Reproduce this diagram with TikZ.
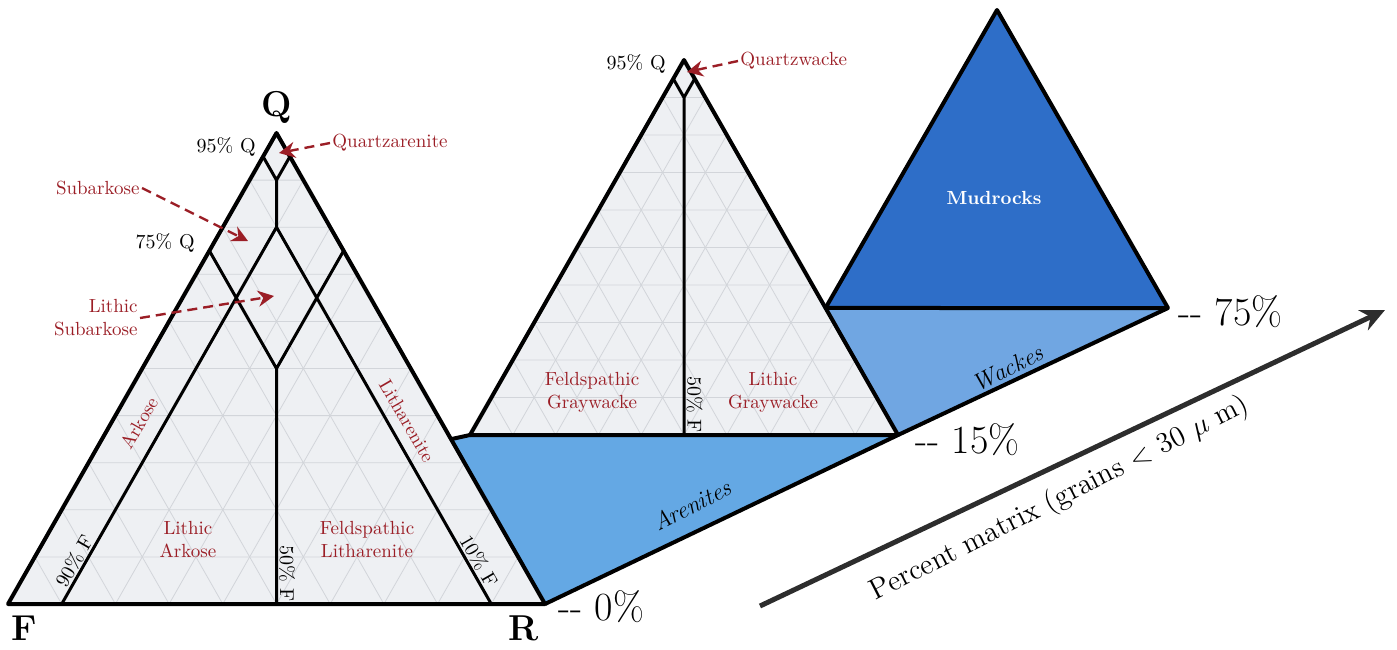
\documentclass[tikz,border=0pt]{standalone}
\usepackage{tikz}
\usetikzlibrary{arrows.meta,calc}

\definecolor{rockred}{RGB}{155,30,38}
\definecolor{trifill}{RGB}{238,240,243}
\definecolor{gridgray}{RGB}{210,213,218}
\definecolor{arenblue}{RGB}{100,168,228}
\definecolor{wackblue}{RGB}{112,166,226}
\definecolor{mudblue}{RGB}{46,110,200}
\definecolor{axisgray}{RGB}{45,45,45}

\tikzset{
  edge/.style={line width=2pt, line join=round},
  split/.style={line width=1.5pt, line join=round},
  gridln/.style={gridgray, line width=0.4pt},
  redlab/.style={text=rockred, font=\fontsize{9.5}{11.5}\selectfont, inner sep=1pt},
  blacklab/.style={font=\fontsize{10}{12}\selectfont, inner sep=1pt},
  ptr/.style={rockred, line width=1.2pt, dash pattern=on 5pt off 3pt, -{Stealth[length=8pt,width=8pt]}},
  corner/.style={font=\fontsize{18}{20}\selectfont\bfseries, inner sep=0pt},
  pct/.style={font=\fontsize{20}{24}\selectfont, anchor=west, inner sep=0pt},
  band/.style={font=\fontsize{12}{14}\selectfont\itshape, inner sep=0pt},
}

\begin{document}
\begin{tikzpicture}[x=0.5pt,y=-0.5pt]
  \useasboundingbox (0,0) rectangle (1397,649);

  % Corners of the three triangles
  \coordinate (F) at (8,604);
  \coordinate (R) at (545,604);
  \coordinate (Q) at (276.5,133);
  \coordinate (MF) at (470,435);
  \coordinate (MR) at (898,435);
  \coordinate (MQ) at (684,60);
  \coordinate (UF) at ($(MQ)!0.6613!(MR)$);
  \coordinate (UR) at (1168,308);
  \coordinate (UQ) at (997,10);
  \coordinate (J) at ($(Q)!0.65!(R)$);

  % Matrix bands
  \fill[arenblue] (J) -- (MF) -- (MR) -- (R) -- cycle;
  \fill[wackblue] (UF) -- (UR) -- (MR) -- cycle;
  \fill[mudblue] (UF) -- (UR) -- (UQ) -- cycle;

  % Triangle backgrounds
  \fill[trifill] (F) -- (R) -- (Q) -- cycle;
  \fill[trifill] (MF) -- (MR) -- (MQ) -- cycle;

  % 10% grid
  \foreach \k [evaluate=\k as \t using \k/10] in {1,...,9} {
    \draw[gridln] ($(F)!\t!(Q)$) -- ($(R)!\t!(Q)$)
                  ($(F)!\t!(R)$) -- ($(Q)!\t!(R)$)
                  ($(R)!\t!(F)$) -- ($(Q)!\t!(F)$);
    \draw[gridln] ($(MF)!\t!(MQ)$) -- ($(MR)!\t!(MQ)$)
                  ($(MF)!\t!(MR)$) -- ($(MQ)!\t!(MR)$)
                  ($(MR)!\t!(MF)$) -- ($(MQ)!\t!(MF)$);
  }

  % Class boundaries, arenites
  \coordinate (V) at ($0.9*(Q)+0.05*(F)+0.05*(R)$);
  \coordinate (T) at ($0.8*(Q)+0.1*(F)+0.1*(R)$);
  \coordinate (B) at ($0.5*(Q)+0.25*(F)+0.25*(R)$);
  \coordinate (F90) at ($(F)!0.1!(R)$);
  \coordinate (F50) at ($(F)!0.5!(R)$);
  \coordinate (F10) at ($(F)!0.9!(R)$);
  \draw[split] ($(Q)!0.05!(F)$) -- (V) -- ($(Q)!0.05!(R)$)
               (V) -- (T)
               (F90) -- (T) -- (F10)
               ($(Q)!0.25!(F)$) -- (B) -- ($(Q)!0.25!(R)$)
               (B) -- (F50);

  % Class boundaries, wackes
  \coordinate (MV) at ($0.9*(MQ)+0.05*(MF)+0.05*(MR)$);
  \coordinate (MF50) at ($(MF)!0.5!(MR)$);
  \draw[split] ($(MQ)!0.05!(MF)$) -- (MV) -- ($(MQ)!0.05!(MR)$)
               (MV) -- (MF50);

  % Outlines
  \draw[edge] (F) -- (R) -- (Q) -- cycle;
  \draw[edge] (MF) -- (MR) -- (MQ) -- cycle;
  \draw[edge] (UF) -- (UR) -- (UQ) -- cycle;
  \draw[edge] (J) -- (MF);
  \draw[edge] (R) -- (MR) -- (UR);

  % Corner labels
  \node[corner] (lq) at (277,107) {Q};
  \node[corner] (lf) at (24,628) {F};
  \node[corner] (lr) at (524,628) {R};
  \node[blacklab, anchor=east] (q95) at (258,147) {95\% Q};
  \node[blacklab, anchor=east] (q75) at (197,243) {75\% Q};
  \node[blacklab, anchor=east] (mq95) at (668,64) {95\% Q};

  % Boundary values
  \node[blacklab, rotate=60, anchor=south] (f90) at ($(F90)!0.1!(T)$) {90\% F};
  \node[blacklab, rotate=-90, anchor=south] (f50) at ($(F50)!0.13!(B)$) {50\% F};
  \node[blacklab, rotate=-60, anchor=south] (f10) at ($(F10)!0.1!(T)$) {10\% F};
  \node[blacklab, rotate=-90, anchor=south] (mf50) at ($(MF50)!0.09!(MV)$) {50\% F};

  % Rock names
  \node[redlab, anchor=west] (qzar) at (330,143) {Quartzarenite};
  \node[redlab, anchor=east] (sub) at (142,188) {Subarkose};
  \node[redlab, anchor=east, align=right] (lsub) at (140,318) {Lithic\\Subarkose};
  \node[redlab, rotate=60] (ark) at (139,423) {Arkose};
  \node[redlab, rotate=-60] (lith) at (407,421) {Litharenite};
  \node[redlab, align=center] (lark) at (188,540) {Lithic\\Arkose};
  \node[redlab, align=center] (flith) at (367,540) {Feldspathic\\Litharenite};
  \node[redlab, anchor=west] (qwk) at (738,61) {Quartzwacke};
  \node[redlab, align=center] (fgw) at (592,392) {Feldspathic\\Graywacke};
  \node[redlab, align=center] (lgw) at (773,392) {Lithic\\Graywacke};
  \node[font=\fontsize{9.5}{11}\selectfont\bfseries, text=white] (mud) at (994,198) {Mudrocks};

  % Pointers
  \coordinate (qzartip) at (279,153);
  \coordinate (subtip) at (248,241);
  \coordinate (lsubtip) at (274,296);
  \coordinate (qwktip) at (687,72);
  \draw[ptr] (qzar.west) -- (qzartip);
  \draw[ptr] (sub.east) -- (subtip);
  \draw[ptr] (lsub.east) -- (lsubtip);
  \draw[ptr] (qwk.west) -- (qwktip);

  % Matrix axis
  \node[band, rotate=27] (aren) at (692,505) {Arenites};
  \node[band, rotate=27] (wack) at (1008,368) {Wackes};
  \node[pct] (p0) at (558,607) {-{}- 0\%};
  \node[pct] (p15) at (915,440) {-{}- 15\%};
  \node[pct] (p75) at (1178,312) {-{}- 75\%};
  \coordinate (ax0) at (760,606);
  \coordinate (ax1) at (1385,310);
  \draw[axisgray, line width=2.5pt, -{Stealth[length=12pt,width=11pt,inset=4pt]}] (ax0) -- (ax1);
  \node[font=\fontsize{14.5}{16}\selectfont, rotate=27] (axlab) at (1060,499) {Percent matrix (grains $<$ 30 $\mu$ m)};
\end{tikzpicture}
\end{document}
